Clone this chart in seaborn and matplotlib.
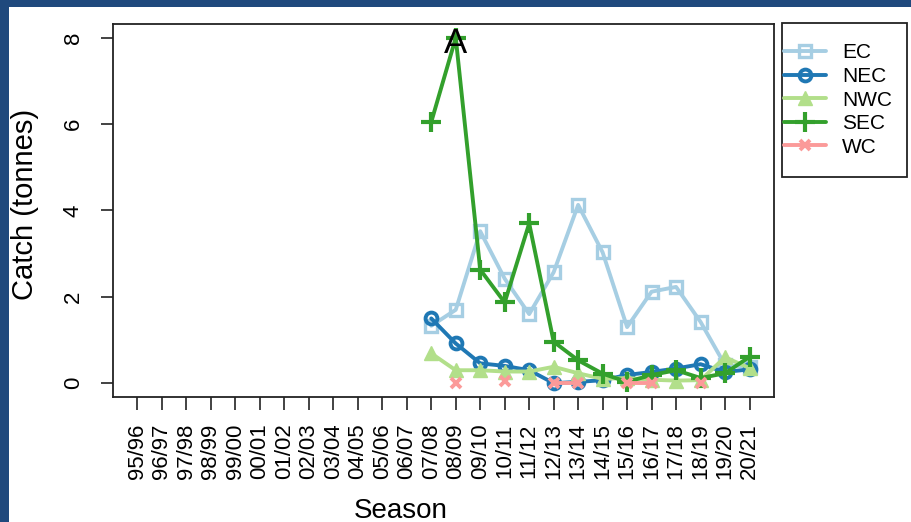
import numpy as np
import pandas as pd
import matplotlib
matplotlib.use("Agg")
import matplotlib.pyplot as plt
import seaborn as sns
from matplotlib.lines import Line2D
from matplotlib.patches import Rectangle

# %% data
seasons = ["95/96", "96/97", "97/98", "98/99", "99/00", "00/01", "01/02", "02/03",
           "03/04", "04/05", "05/06", "06/07", "07/08", "08/09", "09/10", "10/11",
           "11/12", "12/13", "13/14", "14/15", "15/16", "16/17", "17/18", "18/19",
           "19/20", "20/21"]
nan = np.nan
pre = [nan] * 12  # no catch reported before 07/08

ec = pre + [1.33, 1.70, 3.52, 2.42, 1.60, 2.57, 4.13, 3.03, 1.30, 2.12, 2.23, 1.42, 0.42, 0.38]
nec = pre + [1.50, 0.92, 0.46, 0.40, 0.30, 0.00, 0.03, 0.07, 0.19, 0.26, 0.34, 0.44, 0.26, 0.32]
nwc = pre + [0.69, 0.30, 0.30, 0.27, 0.27, 0.38, 0.23, 0.10, 0.12, 0.08, 0.06, 0.07, 0.60, 0.35]
sec = pre + [6.05, 8.00, 2.63, 1.87, 3.70, 0.96, 0.53, 0.22, 0.03, 0.19, 0.30, 0.12, 0.23, 0.61]
wc = pre + [nan, 0.00, nan, 0.04, nan, 0.01, 0.01, nan, 0.01, 0.01, nan, 0.01, nan, nan]

regions = ["EC", "NEC", "NWC", "SEC", "WC"]
values = [ec, nec, nwc, sec, wc]

pal = sns.color_palette("Paired", 5)
styles = {
    "EC":  dict(marker="s", ms=8, mfc="none", mew=2.4),
    "NEC": dict(marker="o", ms=8.5, mfc="none", mew=2.8),
    "NWC": dict(marker="^", ms=10, mew=1),
    "SEC": dict(marker="+", ms=14, mew=3),
    "WC":  dict(marker="x", ms=7.5, mew=2.8),
}

sns.set_style("white")
plt.rcParams["font.family"] = ["Liberation Sans", "DejaVu Sans"]
plt.rcParams["text.color"] = "black"
plt.rcParams["axes.labelcolor"] = "black"
plt.rcParams["xtick.color"] = "black"
plt.rcParams["ytick.color"] = "black"

fig = plt.figure(figsize=(9.11, 5.22), dpi=100)
fig.patch.set_facecolor("#1f497d")
fig.patches.append(Rectangle((9 / 911, 0), 1, 1 - 7 / 522, transform=fig.transFigure,
                             facecolor="white", edgecolor="none", zorder=-10))

ax = fig.add_axes([113 / 911, 1 - 397 / 522, (774 - 113) / 911, (397 - 24) / 522])
x = np.arange(len(seasons))

handles = []
for name, vals, col in zip(regions, values, pal):
    df = pd.DataFrame({"x": x, "y": vals})
    # run id so gaps (missing seasons) break the line
    df["run"] = df["y"].isna().cumsum()
    df = df.dropna()
    sns.lineplot(data=df, x="x", y="y", units="run", estimator=None, ax=ax,
                 color=col, lw=2.8, mec=col, legend=False, **styles[name])
    handles.append(Line2D([], [], color=col, lw=2.8, mec=col, **styles[name]))

ax.annotate("A", xy=(13, 8), xytext=(0, -4), textcoords="offset points",
            ha="center", va="center", fontsize=25, color="black")

ax.set_xlim(-1, 26)
ax.set_ylim(-0.32, 8.32)
ax.set_xticks(x)
ax.set_xticklabels(seasons, rotation=90, fontsize=16)
ax.set_yticks([0, 2, 4, 6, 8])
ax.set_yticklabels(["0", "2", "4", "6", "8"], rotation=90, va="center", fontsize=16)
ax.tick_params(axis="both", direction="out", length=9, width=1.2, color="#222222",
               left=True, bottom=True, pad=10)
ax.tick_params(axis="y", pad=12)
for s in ax.spines.values():
    s.set_color("#222222")
    s.set_linewidth(1.3)

ax.set_xlabel("Season", fontsize=20)
ax.xaxis.set_label_coords(0.436, -0.27)
ax.set_ylabel("Catch (tonnes)", fontsize=21)
ax.yaxis.set_label_coords(-0.112, 0.515)

# legend frame drawn separately so the padding matches the original box
fig.patches.append(Rectangle((782 / 911, 1 - 177 / 522), 125 / 911, 154 / 522,
                             transform=fig.transFigure, facecolor="white",
                             edgecolor="#222222", lw=1.3, zorder=-5))
leg = fig.legend(handles, regions, loc="center left",
                 bbox_to_anchor=(784 / 911, 1 - 100 / 522), fontsize=15,
                 frameon=False, handlelength=2.0, handletextpad=0.8,
                 labelspacing=0.22, borderpad=0, borderaxespad=0)

fig.savefig("out.png", dpi=100, facecolor=fig.get_facecolor())
